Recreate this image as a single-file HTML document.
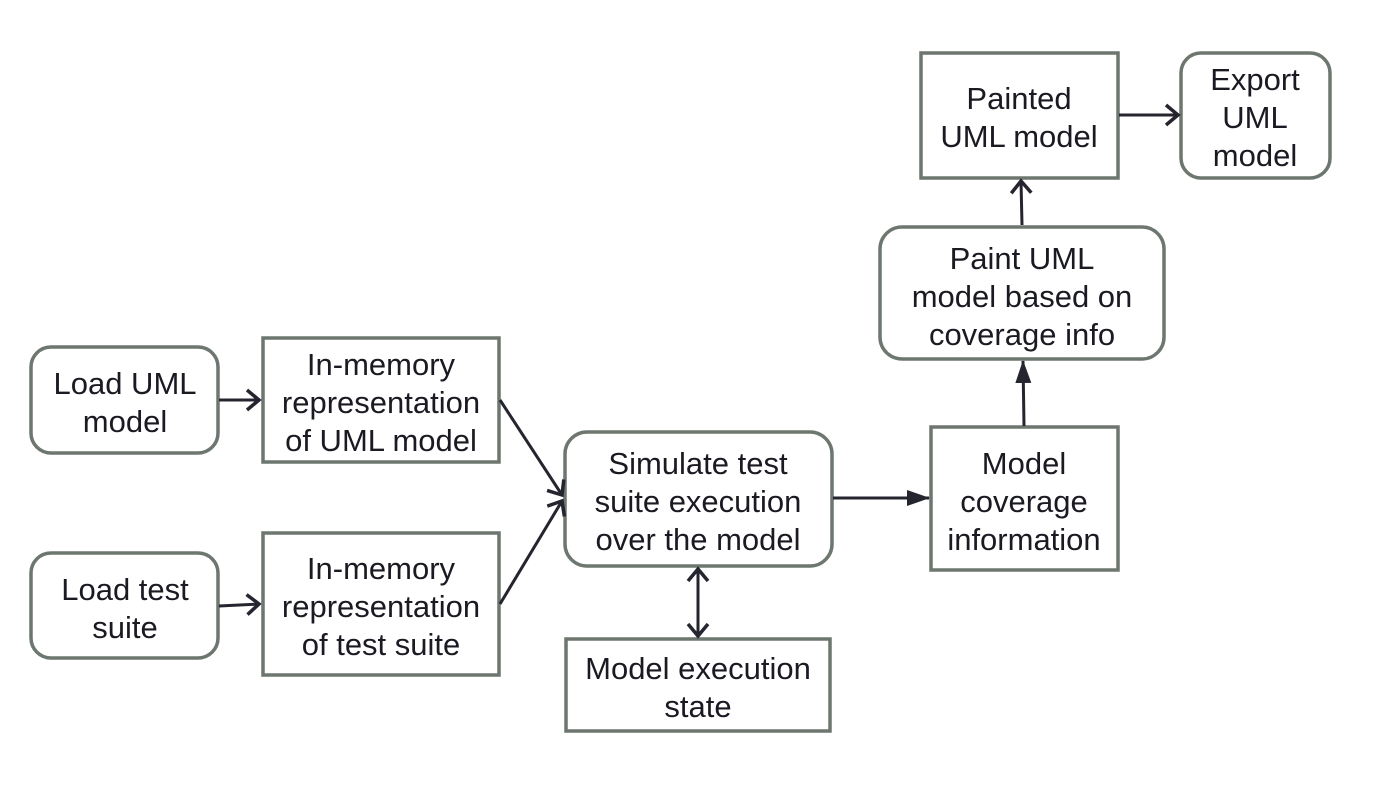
<!DOCTYPE html>
<html><head><meta charset="utf-8"><style>
html,body{margin:0;padding:0;background:#fff;}
svg{display:block;}
text{font-family:"Liberation Sans",Arial,sans-serif;font-size:31px;fill:#1a1a22;text-anchor:middle;}
</style></head><body>
<svg width="1376" height="788" viewBox="0 0 1376 788" xmlns="http://www.w3.org/2000/svg">
<defs>
<marker id="o" markerWidth="20" markerHeight="24" refX="15" refY="12" orient="auto" markerUnits="userSpaceOnUse">
<path d="M3,2 L15,12 L3,22" fill="none" stroke="#25252f" stroke-width="3.5"/>
</marker>
<marker id="os" markerWidth="20" markerHeight="24" refX="4" refY="12" orient="auto" markerUnits="userSpaceOnUse">
<path d="M16,2 L4,12 L16,22" fill="none" stroke="#25252f" stroke-width="3.5"/>
</marker>
<marker id="f" markerWidth="24" markerHeight="24" refX="22" refY="12" orient="auto" markerUnits="userSpaceOnUse">
<path d="M0,4 L23,12 L0,20 Z" fill="#25252f"/>
</marker>
</defs>
<g fill="#fff" stroke="#6d776f" stroke-width="3.5">
<rect x="31" y="347" width="187" height="106" rx="20"/>
<rect x="263" y="338" width="236" height="124"/>
<rect x="31" y="553" width="187" height="105" rx="20"/>
<rect x="263" y="533" width="236" height="142"/>
<rect x="565" y="432" width="267" height="134" rx="22"/>
<rect x="566" y="639" width="264" height="92"/>
<rect x="931" y="427" width="187" height="143"/>
<rect x="880" y="227" width="284" height="132" rx="22"/>
<rect x="921" y="53" width="197" height="125"/>
<rect x="1181" y="53" width="149" height="125" rx="20"/>
</g>
<g stroke="#25252f" stroke-width="3" fill="none">
<line x1="219" y1="400" x2="259" y2="400" marker-end="url(#o)"/>
<line x1="219" y1="606" x2="259" y2="604" marker-end="url(#o)"/>
<line x1="500" y1="400" x2="562" y2="495" marker-end="url(#o)"/>
<line x1="500" y1="604" x2="562" y2="501" marker-end="url(#o)"/>
<line x1="833" y1="498" x2="929" y2="498" marker-end="url(#f)"/>
<line x1="698" y1="569" x2="698" y2="636" marker-start="url(#os)" marker-end="url(#o)"/>
<line x1="1024" y1="426" x2="1023" y2="361" marker-end="url(#f)"/>
<line x1="1022" y1="225" x2="1021" y2="181" marker-end="url(#o)"/>
<line x1="1119" y1="115" x2="1178" y2="115" marker-end="url(#o)"/>
</g>
<text x="125" y="394">Load UML</text><text x="125" y="432">model</text>
<text x="381" y="375">In-memory</text><text x="381" y="413">representation</text><text x="381" y="451">of UML model</text>
<text x="125" y="600">Load test</text><text x="125" y="638">suite</text>
<text x="381" y="579">In-memory</text><text x="381" y="617">representation</text><text x="381" y="655">of test suite</text>
<text x="698" y="474">Simulate test</text><text x="698" y="512">suite execution</text><text x="698" y="550">over the model</text>
<text x="698" y="679">Model execution</text><text x="698" y="717">state</text>
<text x="1024" y="474">Model</text><text x="1024" y="512">coverage</text><text x="1024" y="550">information</text>
<text x="1022" y="269">Paint UML</text><text x="1022" y="307">model based on</text><text x="1022" y="345">coverage info</text>
<text x="1019" y="109">Painted</text><text x="1019" y="147">UML model</text>
<text x="1255" y="90">Export</text><text x="1255" y="128">UML</text><text x="1255" y="166">model</text>
</svg>
</body></html>
